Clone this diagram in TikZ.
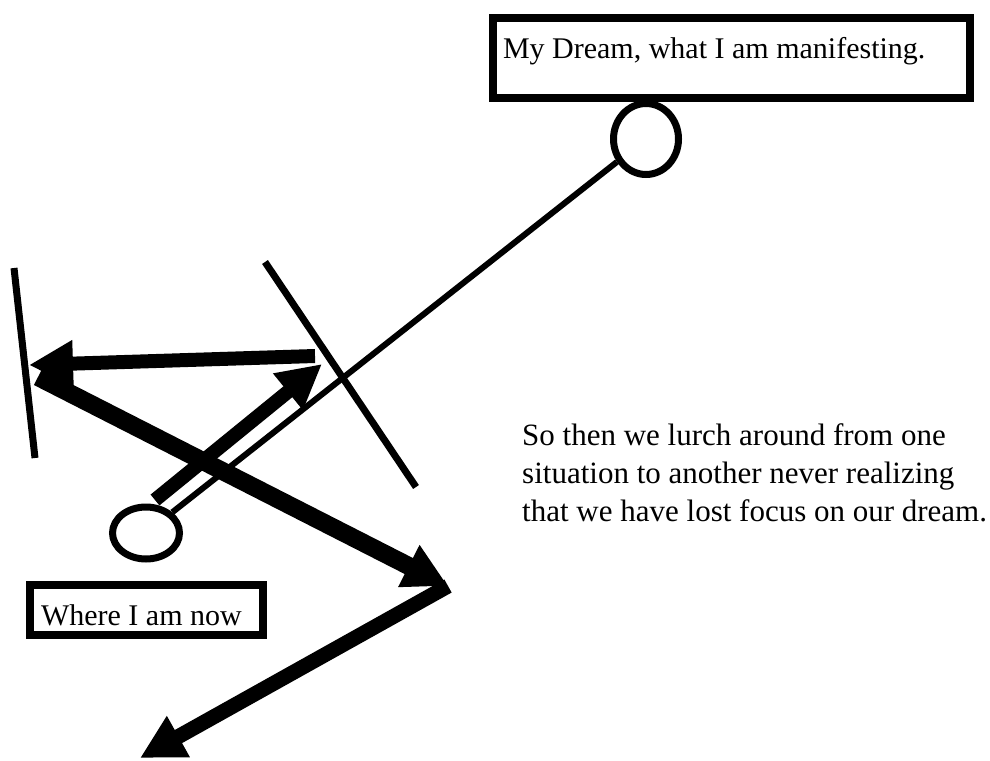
\documentclass[tikz,border=0pt]{standalone}
\usepackage{fontspec}
\setmainfont{Liberation Serif}
\usetikzlibrary{arrows.meta,shapes.geometric}
\tikzset{
  textbox/.style={draw,line width=8pt,inner ysep=4pt,align=flush left,anchor=north west,font=\fontsize{30pt}{37pt}\selectfont},
  spot/.style={draw,ellipse,line width=7pt,inner sep=0pt},
  barrier/.style={line width=7pt},
  lurch/.style={line width=#1,-{Triangle[length=44pt,width=44pt]}},
}
\begin{document}
\begin{tikzpicture}[x=1pt,y=-1pt,font=\fontsize{31pt}{38pt}\selectfont]
\useasboundingbox (0,0) rectangle (990,760);
% boxes and text
\node[textbox,inner xsep=10pt,text width=457pt,text height=37pt,text depth=35pt] (dream) at (489,14) {\mbox{My Dream, what I am manifesting.}};
\node[textbox,inner xsep=11pt,text width=211pt,text height=36pt,text depth=6pt] (now) at (26,581) {\mbox{Where I am now}};
\node[anchor=north west,inner sep=0pt,align=left] (note) at (522,423) {So then we lurch around from one\\situation to another never realizing\\that we have lost focus on our dream.};
% the two ends of the straight path
\node[spot,minimum width=65pt,minimum height=71pt] (dreamdot) at (646,139) {};
\node[spot,minimum width=67pt,minimum height=52pt] (nowdot) at (146,533) {};
\draw[line width=6pt] (nowdot) -- (dreamdot);
% obstacles
\draw[barrier] (14,268) -- (35,458);
\draw[barrier] (265,262) -- (416,487);
% zigzag
\coordinate (start) at (155,500);
\coordinate (hit1) at (322,364);
\coordinate (edge) at (315,356);
\coordinate (hit2) at (29,365);
\coordinate (back) at (38,377);
\coordinate (turn) at (448,586);
\coordinate (lost) at (140,758);
\draw[lurch=14pt] (start) -- (hit1);
\draw[lurch=14pt] (edge) -- (hit2);
\draw[lurch=18pt] (back) -- (turn);
\draw[lurch=15pt] (turn) -- (lost);
\end{tikzpicture}
\end{document}
